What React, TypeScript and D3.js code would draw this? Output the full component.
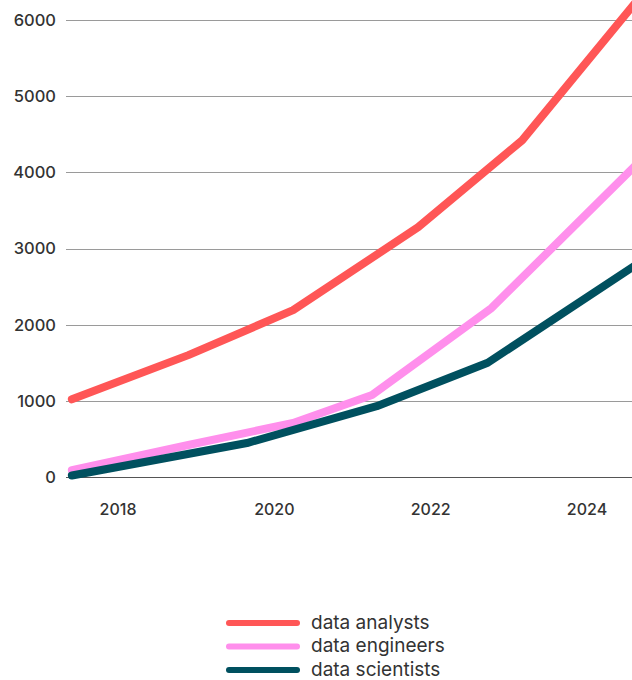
import React from "react";
import * as d3 from "d3";

const seriesNames = ["data analysts", "data engineers", "data scientists"];
const seriesColors = ["#ff5656", "#ff8fec", "#00505f"];

const analystsYears = [2017.41, 2018.9, 2020.24, 2021.84, 2023.17, 2024.62];
const analystsValues = [1020, 1600, 2190, 3280, 4420, 6230];

const engineersYears = [2017.41, 2018.9, 2020.24, 2021.25, 2022.78, 2024.62];
const engineersValues = [90, 420, 710, 1077, 2220, 4090];

const scientistsYears = [2017.41, 2019.65, 2021.31, 2022.73, 2024.62];
const scientistsValues = [20, 446, 930, 1500, 2780];

const yTicks = [0, 1000, 2000, 3000, 4000, 5000, 6000];
const xTicks = [2018, 2020, 2022, 2024];

const W = 632;
const H = 680;

export default function App() {
  const x = d3.scaleLinear().domain([2018, 2024]).range([118, 587]);
  const y = d3.scaleLinear().domain([0, 6000]).range([477, 20]);

  const series = [
    { years: analystsYears, values: analystsValues },
    { years: engineersYears, values: engineersValues },
    { years: scientistsYears, values: scientistsValues },
  ];

  const line = d3
    .line<[number, number]>()
    .x((d) => x(d[0]))
    .y((d) => y(d[1]));

  const font = "Inter, 'Noto Sans', sans-serif";

  return (
    <svg
      width={W}
      height={H}
      style={{ position: "absolute", left: 0, top: 0, background: "#fff" }}
    >
      {yTicks.map((t) => (
        <g key={t}>
          <line
            x1={66}
            x2={W}
            y1={Math.round(y(t)) + 0.5}
            y2={Math.round(y(t)) + 0.5}
            stroke={t === 0 ? "#555" : "#9a9a9a"}
            strokeWidth={1}
          />
          <text
            x={56}
            y={y(t)}
            dy="0.36em"
            textAnchor="end"
            fontFamily={font}
            fontSize={16.5}
            fontWeight={500}
            fill="#333"
          >
            {t}
          </text>
        </g>
      ))}
      {xTicks.map((t) => (
        <text
          key={t}
          x={x(t)}
          y={515}
          textAnchor="middle"
          fontFamily={font}
          fontSize={16}
          fontWeight={500}
          fill="#333"
        >
          {t}
        </text>
      ))}
      {series.map((s, i) => (
        <path
          key={i}
          d={line(s.years.map((yr, j) => [yr, s.values[j]] as [number, number])) || ""}
          fill="none"
          stroke={seriesColors[i]}
          strokeWidth={8}
          strokeLinecap="round"
          strokeLinejoin="round"
        />
      ))}
      {seriesNames.map((n, i) => (
        <g key={n}>
          <line
            x1={229}
            x2={297}
            y1={623 + i * 23.5}
            y2={623 + i * 23.5}
            stroke={seriesColors[i]}
            strokeWidth={6}
            strokeLinecap="round"
          />
          <text
            x={311}
            y={622 + i * 23.5}
            dy="0.35em"
            fontFamily={font}
            fontSize={19}
            fill="#333"
          >
            {n}
          </text>
        </g>
      ))}
    </svg>
  );
}
